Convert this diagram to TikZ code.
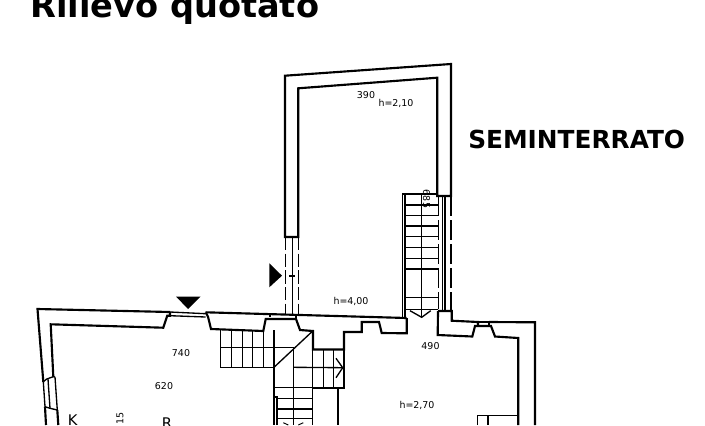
\documentclass[tikz,border=0pt]{standalone}
\usepackage{fontspec}
\setmainfont{DejaVu Sans}
\tikzset{
  wallline/.style={line width=1.6pt, line join=miter},
  stairline/.style={line width=1pt},
  thinline/.style={line width=0.7pt},
  hiddenline/.style={line width=1pt, dash pattern=on 10pt off 2.5pt},
  longhidden/.style={line width=1pt, dash pattern=on 15pt off 3pt},
  dimlabel/.style={font=\fontsize{7.1}{8}\selectfont, inner sep=0pt},
  headlabel/.style={inner sep=0pt, anchor=base west}
}
\begin{document}
\begin{tikzpicture}[x=0.75pt, y=-0.75pt]
    \useasboundingbox (0,0) rectangle (705,425);

    % Titles
    \node[headlabel, font=\bfseries\fontsize{25.2}{30}\selectfont] (title) at (30,17) {Rilievo quotato};
    \node[headlabel, font=\bfseries\fontsize{18.6}{22}\selectfont] (floorname) at (468,148) {SEMINTERRATO};

    % Upper room walls
    \draw[wallline] (285,237) -- (285,75.7) -- (451,64) -- (451,196) -- (437.3,196) -- (437.3,77.7) -- (298.3,88.3) -- (298.3,237) -- cycle;

    % Hidden walls under the upper room
    \draw[hiddenline] (285.5,237) -- (285.5,315);
    \draw[hiddenline] (298.5,237) -- (298.5,315);
    \draw[stairline] (292.5,237) -- (292.5,315);
    \draw[stairline] (289.3,276) -- (295,276);
    \draw[longhidden] (438.3,196) -- (438.3,309);
    \draw[longhidden] (451,196) -- (451,311);
    \draw[stairline] (442.7,196) -- (442.7,311);
    \draw[stairline] (445,196) -- (445,311);

    % Section markers
    \fill (269.3,263.3) -- (269.3,287.3) -- (282,275.7) -- cycle;
    \fill (176,296.5) -- (200.5,296.5) -- (188,309) -- cycle;

    % Main floor, left part
    \draw[wallline] (170,312) -- (37.5,309) -- (43.3,381.7);
    \draw[wallline] (45,406.7) -- (46,425);
    \draw[wallline] (53.3,376.7) -- (50.7,324.3) -- (163.3,327.7) -- (167.3,315.7) -- (170,315.7) -- (170,312);
    \draw[wallline] (57.3,410) -- (58.3,425);
    \draw[stairline] (43.3,381.7) -- (46.7,379) -- (53.3,376.7) -- (55,377);
    \draw[stairline] (43.3,381.7) -- (45,406.7) -- (50,408.3) -- (57.3,410) -- (55,377);
    \draw[stairline] (48,379) -- (50,408.3);
    \draw[stairline] (170,312) -- (205.7,313.7);
    \draw[stairline] (170,315.7) -- (205.7,317);

    % Main floor, middle part
    \draw[wallline] (205.7,312.3) -- (208,316.7) -- (211,329) -- (263.3,331) -- (265.7,319) -- (296,319) -- (300,330) -- (313,331) -- (313,349.5) -- (344,349.5) -- (344,332) -- (361.7,332) -- (361.7,322) -- (379,322) -- (381.7,333) -- (406.7,333.3) -- (406.7,318);
    \draw[wallline] (205.7,312.3) -- (406.7,318);
    \draw[stairline] (270,314) -- (270,316.5);
    \draw[stairline] (296,315.5) -- (296,319);

    % Main floor, right part
    \draw[wallline] (438,311) -- (451.7,311) -- (451.7,320.7) -- (478,322) -- (478,326);
    \draw[wallline] (489,322) -- (535,322.3) -- (535,425);
    \draw[wallline] (438,311) -- (437.7,335) -- (472.3,336.5) -- (475,326) -- (491,326) -- (495,336.5) -- (518.3,338) -- (518.3,425);
    \draw[stairline] (478,322) -- (489,322);
    \draw[stairline] (489,322) -- (489,326);
    \draw[stairline] (477.7,425) -- (477.7,415.7) -- (518.3,415.7);
    \draw[stairline] (488,415.7) -- (488,425);

    % Stair to the upper room
    \draw[stairline] (402.7,318) -- (402.7,194) -- (437.3,194);
    \draw[stairline] (405,194) -- (405,318);
    \draw[stairline] (421.7,194) -- (421.7,318);
    \foreach \stepy in {205,215.7,226,236.7,247.3,258.3,269,297.3,309.3}
      \draw[stairline] (405,\stepy) -- (438,\stepy);
    \draw[stairline] (410,310.7) -- (421.7,317.3) -- (430.7,310.7);

    % Central stair
    \draw[stairline] (220.7,330) -- (220.7,367.3) -- (274,367.3);
    \draw[stairline] (220.7,347.3) -- (293.3,347.3);
    \foreach \stepx in {231.7,242.3,252.7,263.3}
      \draw[stairline] (\stepx,330) -- (\stepx,367.3);
    \draw[stairline] (274,330) -- (274,425);
    \draw[stairline] (274,367.3) -- (312.7,331);
    \draw[stairline] (293.3,347.3) -- (293.3,425);
    \draw[stairline] (293.3,367.3) -- (343.3,367.7);
    \foreach \stepx in {323.3,333.3}
      \draw[stairline] (\stepx,349.5) -- (\stepx,388);
    \draw[wallline] (344,349.5) -- (344,388) -- (313,388);
    \draw[stairline] (312.7,331) -- (312.7,425);
    \draw[stairline] (336,358.3) -- (342.7,367.7) -- (336,377.7);
    \draw[stairline] (274,387.3) -- (313,387.3);
    \draw[wallline] (337.7,388) -- (337.7,425);
    \draw[wallline] (277.3,425) -- (277.3,397.3) -- (274,397.3);
    \foreach \stepy in {398.3,409,418.3}
      \draw[stairline] (277.3,\stepy) -- (312.7,\stepy);
    \draw[thinline] (283.3,422.7) -- (288.3,425);
    \draw[thinline] (303.3,422.7) -- (298.3,425);

    % Measures
    \node[dimlabel] (upperwidth) at (366,95) {390};
    \node[dimlabel] (upperheight) at (396,103) {h=2,10};
    \node[dimlabel, rotate=-90] (stairlength) at (426.5,199) {685};
    \node[dimlabel] (lowerheight) at (351,301) {h=4,00};
    \node[dimlabel] (leftwidth) at (181,353) {740};
    \node[dimlabel] (leftdepth) at (164,386) {620};
    \node[dimlabel] (rightwidth) at (430.5,346.5) {490};
    \node[dimlabel] (rightheight) at (417,405) {h=2,70};
    \node[dimlabel, rotate=90] (leftmeasure) at (120,418) {15};
    \node[inner sep=0pt, anchor=base west, font=\fontsize{11}{12}\selectfont] (kitchen) at (67.5,425.5) {K};
    \node[inner sep=0pt, anchor=base west, font=\fontsize{11}{12}\selectfont] (room) at (161.5,428) {R};
\end{tikzpicture}
\end{document}
